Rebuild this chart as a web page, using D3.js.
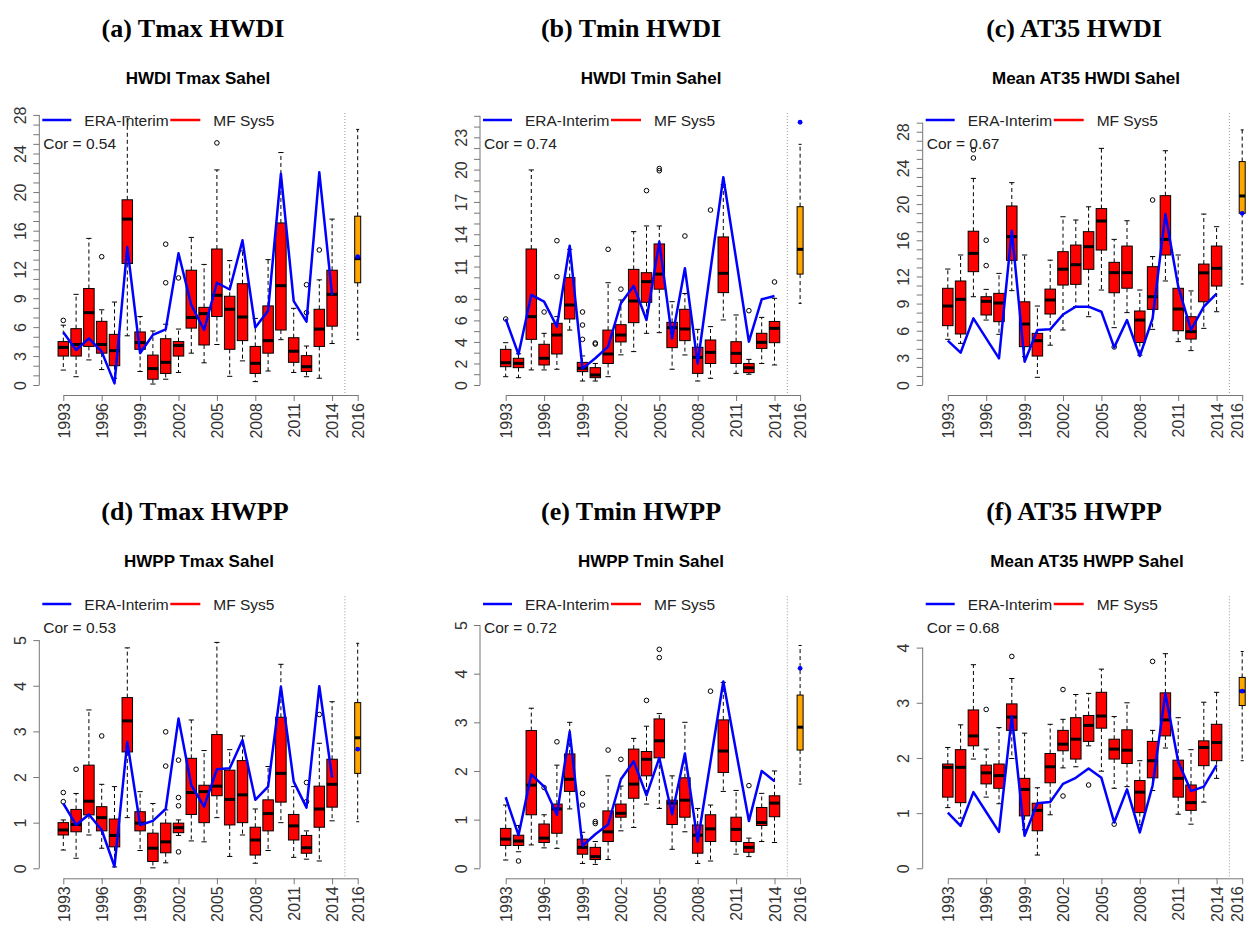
<!DOCTYPE html>
<html>
<head>
<meta charset="utf-8">
<script src="https://cdn.jsdelivr.net/npm/d3@7"></script>
<style>
  body { margin: 0; background: #fff; }
  svg { display: block; }
</style>
</head>
<body>
<svg id="chart" width="1247" height="925"></svg>
<script>
// Hindcast years (ensemble boxes) and the 2016 forecast year
const years = [1993,1994,1995,1996,1997,1998,1999,2000,2001,2002,2003,2004,2005,2006,2007,2008,2009,2010,2011,2012,2013,2014];
const yearTicks = [1993,1996,1999,2002,2005,2008,2011,2014,2016];
const legendLabels = ["ERA-Interim", "MF Sys5"];

// (a) Tmax HWDI
const aLow  = [1.55,0.86,2.6,1.6,0.7,5.1,1.4,0.1,0.6,1.3,3.3,2.3,4.2,0.9,2.5,0.35,1.45,4.7,1.3,0.86,0.7,4.3];
const aQ1   = [3.0,3.0,4.0,3.3,2.0,12.6,3.7,0.6,1.2,3.0,5.9,4.15,7.1,3.7,4.6,1.2,3.3,5.7,2.35,1.4,4.0,6.1];
const aMed  = [3.9,4.2,7.5,4.2,3.56,17.2,4.4,1.7,2.35,4.1,7.0,7.4,9.3,7.85,7.05,2.25,4.6,10.3,3.5,1.9,5.8,9.4];
const aQ3   = [4.5,5.84,10.0,6.6,5.25,19.2,5.5,3.1,4.8,4.5,11.9,8.05,14.1,9.2,10.5,4.0,8.2,16.8,4.9,3.04,7.85,11.9];
const aHigh = [6.2,9.4,15.2,7.8,8.6,27.8,7.1,5.6,6.3,5.8,15.3,12.5,22.3,12.9,13.9,6.9,13.0,24.1,7.95,4.04,10.9,17.2];
const aOut  = [[6.7],[],[],[13.3],[],[],[],[],[10.6,14.6],[11.1],[],[],[25.1],[],[],[],[],[],[],[7.5,10.4],[14.0],[]];
const aEra  = [5.46,3.63,4.84,3.46,0.17,14.3,3.3,5.2,5.77,13.65,8.3,5.7,10.6,9.9,15.0,5.95,7.7,21.9,8.7,6.57,22.05,9.33];
const aFc   = [4.7,10.6,13.1,17.5,26.5];
const aEra16 = 13.3;

// (b) Tmin HWDI
const bLow  = [0.77,0.68,1.4,1.4,1.46,5.1,0.37,0.37,0.77,2.8,3.1,4.8,4.86,1.46,2.79,0.37,0.62,6.04,1.08,1.0,2.0,1.86];
const bQ1   = [1.7,1.61,4.24,1.86,2.88,6.13,1.24,0.68,2.0,4.0,5.79,7.68,8.9,3.47,4.12,1.08,2.0,8.58,2.0,1.15,3.4,3.93];
const bMed  = [2.07,2.01,6.35,2.48,4.64,7.43,1.55,0.93,2.88,4.64,7.8,9.6,10.3,5.33,5.2,2.57,3.03,10.37,2.94,1.6,3.96,5.26];
const bQ3   = [3.31,2.48,12.63,3.78,5.73,9.97,2.1,1.61,5.1,5.6,10.74,10.43,13.1,5.82,7.03,3.5,4.18,13.75,4.02,2.0,4.8,5.9];
const bHigh = [3.93,2.9,19.97,4.8,6.35,12.6,2.7,2.0,9.5,7.9,14.24,14.77,14.77,7.74,8.5,5.17,5.42,18.6,6.5,2.38,6.28,8.05];
const bOut  = [[6.13],[],[],[6.78],[10.06,13.4],[],[4.24,5.57,6.78],[3.8,3.9],[12.6],[8.9],[],[18.05],[19.9,20.1],[],[13.84],[],[16.25],[],[],[6.9],[],[9.57]];
const bEra  = [6.13,2.85,8.36,7.74,5.42,12.94,1.52,2.48,3.56,7.59,9.2,6.04,13.3,4.33,10.84,2.0,10.7,19.3,11.7,4.02,7.96,8.27];
const bFc   = [7.58,10.3,12.6,16.56,22.35];
const bEra16 = 24.4;

// (c) AT35 HWDI
const cLow  = [5.05,4.6,9.76,7.18,5.6,10.43,3.13,0.85,4.4,6.08,8.66,7.55,10.5,6.34,8.0,3.3,6.15,11.5,4.79,3.8,6.26,8.1];
const cQ1   = [6.56,5.64,12.53,7.74,7.0,13.78,4.24,3.2,7.85,11.05,11.13,12.79,14.92,10.2,10.7,4.7,8.36,14.37,6.0,5.08,9.2,10.94];
const cMed  = [8.73,9.47,14.55,9.25,9.06,16.4,6.74,4.9,9.4,12.8,13.3,15.29,18.13,12.42,12.42,7.18,9.76,16.1,8.4,5.9,12.4,12.9];
const cQ3   = [10.69,11.5,17.0,9.76,10.13,19.79,9.2,5.71,10.6,14.74,15.47,16.95,19.5,13.56,15.36,8.18,13.08,20.93,10.69,7.55,13.37,15.36];
const cHigh = [12.82,14.37,22.84,10.57,12.34,22.37,14.37,8.73,13.8,18.6,18.24,19.7,26.16,16.1,18.16,10.5,14.2,25.9,14.37,10.4,18.9,17.5];
const cOut  = [[],[],[25.1,26.0],[13.2,16.0],[],[],[],[],[],[],[],[],[],[4.2],[],[],[20.45],[],[],[],[],[]];
const cEra  = [4.9,3.57,7.37,5.16,2.95,17.06,2.58,6.08,6.15,7.8,8.66,8.66,8.1,4.16,7.18,3.2,7.37,18.9,10.9,6.08,8.66,10.1];
const cFc   = [11.16,18.98,20.9,24.7,28.2];
const cEra16 = 18.98;

// (d) Tmax HWPP
const dLow  = [0.4,0.22,0.73,0.44,0.03,1.11,0.39,0.01,0.12,0.72,0.6,0.58,1.11,0.26,0.73,0.11,0.39,1.0,0.24,0.2,0.16,1.04];
const dQ1   = [0.73,0.8,1.17,0.82,0.47,2.55,0.82,0.15,0.34,0.78,1.18,1.0,1.59,0.95,1.0,0.29,0.82,1.45,0.62,0.33,0.9,1.34];
const dMed  = [0.84,0.96,1.47,1.11,0.72,3.23,0.99,0.44,0.58,0.89,1.66,1.68,1.8,1.51,1.61,0.62,1.2,2.08,0.93,0.45,1.3,1.84];
const dQ3   = [1.0,1.29,2.26,1.35,1.08,3.74,1.24,0.77,0.99,0.99,2.41,1.82,2.93,2.15,2.36,0.9,1.5,3.31,1.18,0.72,1.8,2.39];
const dHigh = [1.06,1.64,3.47,1.84,1.79,4.83,1.68,1.42,1.28,1.06,3.25,2.58,4.95,2.6,2.9,1.3,2.23,4.47,1.79,0.82,2.74,3.65];
const dOut  = [[1.46,1.66],[2.17],[],[2.9],[],[],[],[],[2.24,2.99],[0.36,1.37,1.55,2.37],[],[],[],[],[],[],[],[],[],[1.46,1.88],[3.37],[]];
const dEra  = [1.42,0.95,1.18,0.84,0.04,2.77,0.95,1.04,1.3,3.28,1.82,1.35,2.17,2.19,2.81,1.5,1.79,3.98,1.9,1.33,3.99,1.99];
const dFc   = [1.02,2.08,2.86,3.63,4.93];
const dEra16 = 2.61;

// (e) Tmin HWPP
const eLow  = [0.17,0.34,0.48,0.42,0.41,1.22,0.1,0.08,0.18,0.77,0.84,1.32,1.23,0.39,0.75,0.1,0.15,1.58,0.29,0.24,0.55,0.53];
const eQ1   = [0.47,0.47,1.1,0.53,0.72,1.58,0.29,0.18,0.55,1.05,1.44,1.9,2.27,0.9,1.05,0.31,0.55,1.97,0.55,0.33,0.88,1.06];
const eMed  = [0.6,0.56,1.71,0.62,1.22,1.83,0.43,0.24,0.75,1.13,1.73,2.24,2.62,1.34,1.4,0.68,0.81,2.41,0.8,0.43,0.94,1.34];
const eQ3   = [0.82,0.68,2.83,0.91,1.32,2.35,0.6,0.43,1.18,1.32,2.45,2.4,3.07,1.4,1.86,0.89,1.1,3.05,1.05,0.53,1.25,1.49];
const eHigh = [1.3,0.88,3.29,1.1,2.12,3.0,0.74,0.55,1.9,1.69,2.67,2.92,3.18,1.9,3.0,1.23,1.3,3.82,1.6,0.62,1.54,2.0];
const eOut  = [[],[0.15],[],[1.66],[2.6],[],[1.3,1.54],[0.92,0.96],[2.43],[2.24],[],[3.45],[4.33,4.5],[],[],[],[3.64],[],[],[1.7],[],[]];
const eEra  = [1.46,0.68,1.93,1.68,1.1,2.81,0.46,0.7,0.9,1.83,2.2,1.5,2.27,1.11,2.36,0.55,2.19,3.84,2.4,0.97,2.0,1.79];
const eFc   = [1.73,2.43,2.9,3.56,4.58];
const eEra16 = 4.11;

// (f) AT35 HWPP
const fLow  = [1.1,0.91,1.98,1.29,1.17,1.99,0.7,0.24,0.97,1.82,1.84,2.22,1.76,1.45,1.48,0.79,1.41,2.18,0.98,0.8,1.2,1.63];
const fQ1   = [1.29,1.19,2.22,1.53,1.45,2.5,0.95,0.68,1.55,2.13,1.98,2.3,2.54,1.98,1.9,1.01,1.64,2.4,1.29,1.05,1.86,1.95];
const fMed  = [1.83,1.83,2.4,1.73,1.68,2.74,1.43,1.05,1.84,2.25,2.34,2.59,2.76,2.16,2.14,1.38,1.95,2.69,1.63,1.19,2.19,2.28];
const fQ3   = [1.89,2.15,2.87,1.87,1.89,2.98,1.63,1.18,2.08,2.5,2.73,2.77,3.19,2.34,2.51,1.59,2.3,3.18,1.96,1.51,2.31,2.61];
const fHigh = [2.19,2.6,3.69,2.16,2.55,3.44,2.45,1.46,2.61,2.7,3.15,3.17,3.61,2.75,3.0,1.95,2.5,3.89,2.73,2.15,3.01,3.19];
const fOut  = [[],[],[],[2.88],[],[3.84],[],[],[],[1.31,3.24],[],[1.51],[],[0.8],[],[],[3.75],[],[],[],[],[]];
const fEra  = [1.01,0.77,1.38,1.02,0.66,2.76,0.59,1.18,1.2,1.53,1.64,1.81,1.64,0.83,1.43,0.65,1.5,3.17,1.93,1.4,1.48,1.87];
const fFc   = [1.95,2.95,3.21,3.46,3.93];
const fEra16 = 3.21;

const panels = [
  {tag:"(a) Tmax HWDI", sub:"HWDI Tmax Sahel", cor:"Cor = 0.54", low:aLow,q1:aQ1,med:aMed,q3:aQ3,high:aHigh,out:aOut,era:aEra,fc:aFc,era16:aEra16,
   yMax:28.2, yTicks:d3.range(0,29), yLabels:[0,3,6,9,12,16,20,24,28]},
  {tag:"(b) Tmin HWDI", sub:"HWDI Tmin Sahel", cor:"Cor = 0.74", low:bLow,q1:bQ1,med:bMed,q3:bQ3,high:bHigh,out:bOut,era:bEra,fc:bFc,era16:bEra16,
   yMax:25.26, yTicks:d3.range(0,26), yLabels:[0,2,4,6,8,11,14,17,20,23]},
  {tag:"(c) AT35 HWDI", sub:"Mean AT35 HWDI Sahel", cor:"Cor = 0.67", low:cLow,q1:cQ1,med:cMed,q3:cQ3,high:cHigh,out:cOut,era:cEra,fc:cFc,era16:cEra16,
   yMax:30.07, yTicks:d3.range(0,30), yLabels:[0,3,6,9,12,16,20,24,28]},
  {tag:"(d) Tmax HWPP", sub:"HWPP Tmax Sahel", cor:"Cor = 0.53", low:dLow,q1:dQ1,med:dMed,q3:dQ3,high:dHigh,out:dOut,era:dEra,fc:dFc,era16:dEra16,
   yMax:5.96, yTicks:[0,1,2,3,4,5], yLabels:[0,1,2,3,4,5]},
  {tag:"(e) Tmin HWPP", sub:"HWPP Tmin Sahel", cor:"Cor = 0.72", low:eLow,q1:eQ1,med:eMed,q3:eQ3,high:eHigh,out:eOut,era:eEra,fc:eFc,era16:eEra16,
   yMax:5.59, yTicks:[0,1,2,3,4,5], yLabels:[0,1,2,3,4,5]},
  {tag:"(f) AT35 HWPP", sub:"Mean AT35 HWPP Sahel", cor:"Cor = 0.68", low:fLow,q1:fQ1,med:fMed,q3:fQ3,high:fHigh,out:fOut,era:fEra,fc:fFc,era16:fEra16,
   yMax:4.93, yTicks:[0,1,2,3,4], yLabels:[0,1,2,3,4]}
];

// Layout of the 3 x 2 grid
const W = 1247;
const axisX  = [39.3, 480, 922.7];     // left axis position per column
const firstX = [63.3, 505.7, 947.8];   // 1993 position per column
const yearStep = 12.8;
const rowBase = [385, 868.3];          // y pixel of value 0 per row
const plotH = 272;
const tagX = [[193, 631, 1074], [195, 631, 1074]];
const subX = [[198, 651, 1086], [199, 651, 1087]];

const svg = d3.select("#chart");
const sans = "'Liberation Sans', Arial, Helvetica, sans-serif";
const serif = "'Liberation Serif', 'Times New Roman', serif";

function drawBox(g, cx, lo, q1, med, q3, hi, outs, y, w, fill) {
  const half = w / 2, cap = w / 4;
  // whiskers with end staples
  [[q3, hi], [q1, lo]].forEach(([a, b]) => {
    g.append("line").attr("x1", cx).attr("x2", cx).attr("y1", y(a)).attr("y2", y(b))
      .attr("stroke", "#000").attr("stroke-width", 1).attr("stroke-dasharray", "4,3");
    g.append("line").attr("x1", cx - cap).attr("x2", cx + cap).attr("y1", y(b)).attr("y2", y(b))
      .attr("stroke", "#000").attr("stroke-width", 1);
  });
  g.append("rect").attr("x", cx - half).attr("width", w)
    .attr("y", y(q3)).attr("height", y(q1) - y(q3))
    .attr("fill", fill).attr("stroke", "#000").attr("stroke-width", 1);
  g.append("line").attr("x1", cx - half).attr("x2", cx + half).attr("y1", y(med)).attr("y2", y(med))
    .attr("stroke", "#000").attr("stroke-width", 3);
  outs.forEach(v => {
    g.append("circle").attr("cx", cx).attr("cy", y(v)).attr("r", 2.3)
      .attr("fill", "none").attr("stroke", "#000").attr("stroke-width", 1);
  });
}

panels.forEach((p, i) => {
  const col = i % 3, row = Math.floor(i / 3);
  const y0 = rowBase[row];
  const g = svg.append("g");
  const x = d3.scaleLinear().domain([1993, 2016]).range([firstX[col], firstX[col] + 23 * yearStep]);
  const y = d3.scaleLinear().domain([0, p.yMax]).range([y0, y0 - plotH]);

  // titles
  svg.append("text").attr("x", tagX[row][col]).attr("y", 37 + row * 483.3)
    .attr("text-anchor", "middle").attr("font-family", serif).attr("font-weight", "bold")
    .attr("font-size", 26).attr("fill", "#000").text(p.tag);
  svg.append("text").attr("x", subX[row][col]).attr("y", 84 + row * 483.3)
    .attr("text-anchor", "middle").attr("font-family", sans).attr("font-weight", "bold")
    .attr("font-size", 17).attr("fill", "#000").text(p.sub);

  // separator between hindcasts and forecast
  g.append("line").attr("x1", x(2015)).attr("x2", x(2015)).attr("y1", y0 - plotH).attr("y2", y0 + 10)
    .attr("stroke", "#999").attr("stroke-width", 1).attr("stroke-dasharray", "1,2");

  // ensemble boxes
  years.forEach((yr, k) => {
    drawBox(g, x(yr), p.low[k], p.q1[k], p.med[k], p.q3[k], p.high[k], p.out[k], y, 10.5, "#ff0000");
  });
  drawBox(g, x(2016), p.fc[0], p.fc[1], p.fc[2], p.fc[3], p.fc[4], [], y, 6, "#ffa500");

  // reanalysis line
  g.append("path").datum(p.era)
    .attr("d", d3.line().x((d, k) => x(years[k])).y(d => y(d)))
    .attr("fill", "none").attr("stroke", "#0000ff").attr("stroke-width", 2.5).attr("stroke-linejoin", "round");
  g.append("circle").attr("cx", x(2016)).attr("cy", y(p.era16)).attr("r", 2.4).attr("fill", "#0000ff");

  // y axis
  const ya = g.append("g").attr("transform", `translate(${axisX[col]},0)`)
    .call(d3.axisLeft(y).tickValues(p.yTicks).tickSize(6)
      .tickFormat(d => p.yLabels.includes(d) ? d : ""));
  ya.select(".domain").remove();
  ya.selectAll(".tick line").attr("stroke", "#777");
  ya.selectAll(".tick text").attr("x", 0).attr("dy", 0)
    .attr("transform", "translate(-13.5,0) rotate(-90)").attr("text-anchor", "middle")
    .attr("font-family", sans).attr("font-size", 16).attr("fill", "#333");
  ya.append("line").attr("x1", 0).attr("x2", 0)
    .attr("y1", y(p.yTicks[0])).attr("y2", y(p.yTicks[p.yTicks.length - 1])).attr("stroke", "#777");

  // x axis
  const xa = g.append("g").attr("transform", `translate(0,${y0 + 10})`)
    .call(d3.axisBottom(x).tickValues(yearTicks).tickSize(6).tickSizeOuter(0).tickFormat(d3.format("d")));
  xa.select(".domain").attr("stroke", "#777");
  xa.selectAll(".tick line").attr("stroke", "#777");
  xa.selectAll(".tick text").attr("y", 0).attr("dy", 0)
    .attr("transform", d => {
      // keep the rightmost label inside the page
      const shift = Math.min(5.75, W - 4.5 - x(d));
      return `translate(${shift},8) rotate(-90)`;
    })
    .attr("text-anchor", "end")
    .attr("font-family", sans).attr("font-size", 16).attr("fill", "#333");

  // legend and correlation
  const ly = 120 + row * 484;
  const ax = axisX[col];
  g.append("line").attr("x1", ax + 3).attr("x2", ax + 32).attr("y1", ly).attr("y2", ly)
    .attr("stroke", "#0000ff").attr("stroke-width", 2.5);
  g.append("text").attr("x", ax + 45).attr("y", ly + 5.5).attr("font-family", sans)
    .attr("font-size", 15.5).attr("fill", "#222").text(legendLabels[0]);
  g.append("line").attr("x1", ax + 131).attr("x2", ax + 161).attr("y1", ly).attr("y2", ly)
    .attr("stroke", "#ff0000").attr("stroke-width", 2.5);
  g.append("text").attr("x", ax + 174).attr("y", ly + 5.5).attr("font-family", sans)
    .attr("font-size", 15.5).attr("fill", "#222").text(legendLabels[1]);
  g.append("text").attr("x", ax + 4).attr("y", ly + 23 + 5.5).attr("font-family", sans)
    .attr("font-size", 15.5).attr("fill", "#222").text(p.cor);
});
</script>
</body>
</html>
